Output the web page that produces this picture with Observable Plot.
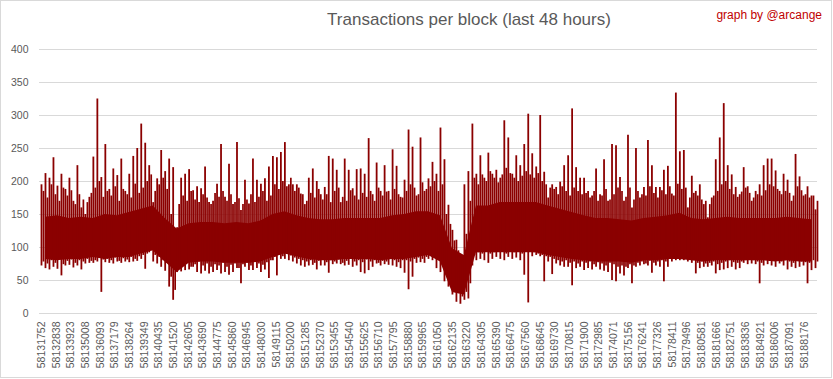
<!DOCTYPE html>
<html>
<head>
<meta charset="utf-8">
<script src="https://cdn.jsdelivr.net/npm/d3@7"></script>
<script src="https://cdn.jsdelivr.net/npm/@observablehq/plot@0.6"></script>
<style>
  html, body { margin: 0; padding: 0; background: #fff; }
  #wrap { position: relative; width: 833px; height: 379px; font-family: "Liberation Sans", Arial, sans-serif; }
  #frame { position: absolute; left: 0; top: 0; width: 832px; height: 378px; border: 1px solid #d9d9d9; box-sizing: border-box; pointer-events: none; }
  #chart { position: absolute; left: 0; top: 0; }
  #title { position: absolute; left: 469px; top: 10px; transform: translateX(-50%); white-space: nowrap; font-size: 17px; line-height: 20px; color: #595959; }
  #credit { position: absolute; right: 11px; top: 7px; white-space: nowrap; font-size: 12px; line-height: 16px; color: #c00000; }
</style>
</head>
<body>
<div id="wrap">
  <div id="chart"></div>
  <div id="title">Transactions per block (last 48 hours)</div>
  <div id="credit">graph by @arcange</div>
  <div id="frame"></div>
</div>
<script>
// Block range shown on the category axis (first/last block of the 48-hour window)
const xStart = 58131604;
const xEnd = 58189144;

// Tick labels on the x axis (block numbers)
const xTicks = [58131752,58132838,58133923,58135008,58136093,58137179,58138264,58139349,58140435,58141520,
  58142605,58143690,58144775,58145860,58146945,58148030,58149115,58150200,58151285,58152370,
  58153455,58154540,58155625,58156710,58157795,58158880,58159965,58161050,58162135,58163220,
  58164305,58165390,58166475,58167560,58168645,58169730,58170815,58171900,58172985,58174071,
  58175156,58176241,58177326,58178411,58179496,58180581,58181666,58182751,58183836,58184921,
  58186006,58187091,58188176];

// Y axis ticks
const yTicks = [0, 50, 100, 150, 200, 250, 300, 350, 400];

// Highest transactions per block within each consecutive slice of blocks
const hi = [195,212,205,236,193,211,188,205,170,224,160,150,176,237,325,206,256,188,219,209,
  234,185,211,238,250,287,258,224,168,204,247,215,234,221,130,205,211,218,186,192,
  189,222,168,170,196,256,176,226,165,259,156,202,166,234,202,196,204,222,238,236,
  244,259,195,195,195,181,165,205,219,200,180,191,238,234,217,168,234,217,189,218,
  219,211,265,180,228,185,224,185,248,223,176,202,278,252,178,266,185,204,229,211,
  281,233,164,126,111,83,195,215,287,211,239,205,243,211,217,205,292,266,211,239,
  224,256,302,242,222,300,214,175,195,191,199,224,239,310,221,205,205,185,178,219,
  180,233,170,256,254,206,170,270,160,250,175,191,262,224,191,191,217,223,181,334,
  245,247,160,208,185,195,165,145,175,233,266,318,224,210,191,180,221,192,170,185,
  195,224,234,234,216,185,211,202,170,241,207,178,192,178,157];

// Lowest transactions per block within each slice
const lo = [72,68,66,70,67,57,72,73,69,72,66,75,76,76,78,32,77,76,75,78,
  76,78,77,78,79,82,67,92,78,75,70,64,40,20,62,63,65,66,70,62,
  60,64,60,62,65,60,62,58,62,68,45,70,65,65,68,62,66,53,80,57,
  82,82,80,78,75,72,70,72,73,66,72,72,61,74,75,74,72,73,70,72,
  62,60,65,70,75,72,74,73,72,70,68,61,36,55,76,77,76,82,80,68,
  62,48,40,28,17,14,20,22,72,80,82,80,76,82,85,82,80,85,82,84,
  80,58,16,86,88,86,48,78,59,75,72,70,70,42,68,70,65,68,66,70,
  66,64,62,50,48,60,57,68,45,70,72,74,72,61,72,70,48,70,78,80,
  80,80,78,76,60,68,70,70,72,60,65,66,68,70,66,68,76,74,75,74,
  45,72,74,72,70,75,72,66,70,68,70,72,45,65,68];

// Typical upper / lower fringe between the slices above
const hi2 = [185,175,195,180,170,190,178,186,165,180,172,168,182,190,200,176,
  185,178,192,170,188,180,175,196,182,190,200,
  210,185,195,205,188,
  150,125,165,
  178,170,185,172,168,180,175,165,182,176,185,170,180,168,174,165,
  172,180,168,176,185,170,178,
  195,188,200,192,205,185,190,180,
  170,182,175,188,172,180,168,185,190,176,170,186,178,172,182,176,185,170,190,178,184,172,188,180,175,
  185,195,190,180,198,188,192,200,185,195,
  150,135,110,95,80,120,170,
  205,195,210,200,215,205,198,210,220,212,205,200,208,215,210,205,212,200,195,190,
  188,180,192,185,178,190,185,180,
  182,175,185,170,178,188,172,180,190,185,
  176,190,172,185,180,178,192,182,175,186,
  180,192,178,196,188,190,175,182,178,172,
  170,165,178,185,195,200,188,180,176,184,
  190,182,175,180,178,186,195,192,188,180,
  185,182,178,192,186,180,175,178,170];
const lo2 = [78,75,80,76,82,74,79,81,76,80,78,82,79,80,84,81,
  82,80,84,79,83,81,85,82,86,88,90,
  95,88,85,80,76,
  55,35,70,
  72,76,70,74,78,72,75,70,74,72,76,70,73,75,68,74,
  76,72,78,75,73,77,80,
  85,88,86,90,87,84,82,80,
  78,80,76,79,82,77,80,78,81,76,79,82,78,80,77,81,78,80,76,79,78,82,80,77,80,
  80,78,82,84,82,85,88,86,84,80,
  65,52,40,30,25,32,45,
  88,92,90,94,90,92,95,93,90,94,92,95,90,93,95,92,90,88,86,85,
  82,80,78,80,76,78,75,78,
  76,78,74,77,75,72,76,74,70,72,
  70,74,72,76,78,75,79,76,78,80,
  78,82,84,85,86,84,82,80,76,78,
  75,76,78,74,76,78,80,77,76,78,
  80,82,80,78,76,80,79,82,80,78,
  80,78,76,80,78,77,76,80,78];

// Dense (near-solid) band of the series, coarser slices
const coreLo = [82,80,82,82,85,82,85,85,90,95,78,62,76,78,78,76,76,76,78,85,
  90,86,82,80,80,82,82,82,80,82,82,85,88,78,32,28,92,92,92,92,
  92,92,88,85,82,80,78,78,78,76,80,80,82,82,80,78,80,80,80,80,
  80,78,80,78,78];
const coreHi = [146,148,144,146,144,150,148,153,158,163,144,128,136,138,138,136,138,136,140,150,
  154,148,144,142,142,144,144,144,144,148,150,154,154,148,98,88,163,163,168,168,
  168,168,163,158,153,148,144,144,142,140,144,146,148,152,144,142,144,146,144,144,
  144,144,146,144,142];

const binBlocks = (xEnd - xStart) / hi.length;
const bins = hi.map((h, i) => ({block: xStart + (i + 0.5) * binBlocks, hi: h, lo: lo[i]}));
const bins2 = hi2.map((h, i) => ({block: xStart + (i + 1) * binBlocks, hi: h, lo: lo2[i]}));
const segBlocks = (xEnd - xStart) / coreHi.length;
const core = coreHi.map((h, i) => ({block: xStart + (i + 0.5) * segBlocks, hi: h, lo: coreLo[i]}));

const red = "#8b0000";

const chart = Plot.plot({
  width: 833,
  height: 379,
  marginLeft: 39,
  marginRight: 16,
  marginTop: 49,
  marginBottom: 66,
  style: {fontFamily: "'Liberation Sans', Arial, sans-serif", color: "#595959", background: "transparent", overflow: "visible"},
  x: {domain: [xStart, xEnd]},
  y: {domain: [0, 400]},
  marks: [
    Plot.gridY(yTicks, {stroke: "#d9d9d9", strokeOpacity: 1, strokeWidth: 1}),
    Plot.axisY(yTicks, {tickSize: 0, tickPadding: 11, fontSize: 10.5, label: null}),
    Plot.axisX(xTicks, {tickSize: 0, tickPadding: 8, tickRotate: -90, fontSize: 10.5, label: null, tickFormat: d => String(d)}),
    Plot.areaY(core, {x: "block", y1: "lo", y2: "hi", fill: red, curve: "linear"}),
    Plot.ruleX(bins2, {x: "block", y1: "lo", y2: "hi", stroke: red, strokeWidth: 1.7}),
    Plot.ruleX(bins, {x: "block", y1: "lo", y2: "hi", stroke: red, strokeWidth: 1.8})
  ]
});
document.getElementById("chart").appendChild(chart);
</script>
</body>
</html>
